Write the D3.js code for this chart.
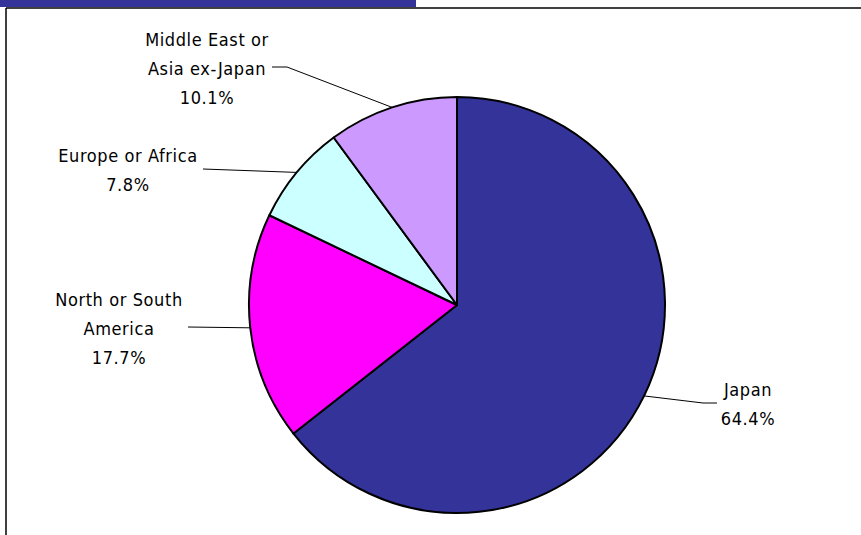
<!DOCTYPE html>
<html>
<head>
<meta charset="utf-8">
<script src="https://cdn.jsdelivr.net/npm/d3@7"></script>
<style>
  html, body { margin: 0; padding: 0; background: #fff; }
  svg { display: block; }
  .lbl { font-family: "DejaVu Sans Condensed", "DejaVu Sans", sans-serif; font-stretch: condensed; font-size: 18px; fill: #000; letter-spacing: 0.6px; }
</style>
</head>
<body>
<svg id="chart"></svg>
<script>
// Slices, clockwise from 12 o'clock
const regions = ["Japan", "North or South America", "Europe or Africa", "Middle East or Asia ex-Japan"];
const shares = [64.4, 17.7, 7.8, 10.1];
const labelLines = [
  ["Japan"],
  ["North or South", "America"],
  ["Europe or Africa"],
  ["Middle East or", "Asia ex-Japan"]
];
const sliceColors = ["#333399", "#ff00ff", "#ccffff", "#cc99ff"];

const width = 861, height = 535;
const cx = 457, cy = 305, r = 208;

const svg = d3.select("#chart").attr("width", width).attr("height", height);

// header band + frame
svg.append("rect").attr("x", 0).attr("y", 0).attr("width", 416).attr("height", 7).attr("fill", "#333399");
svg.append("line").attr("x1", 6).attr("x2", width).attr("y1", 8).attr("y2", 8).attr("stroke", "#000").attr("stroke-width", 1.5);
svg.append("line").attr("x1", 6).attr("x2", 6).attr("y1", 8).attr("y2", height).attr("stroke", "#000").attr("stroke-width", 1.5);

const pie = d3.pie().sort(null).value(d => d.v);
const data = pie(regions.map((name, i) => ({ name, v: shares[i], lines: labelLines[i], color: sliceColors[i] })));

const arc = d3.arc().innerRadius(0).outerRadius(r);
const edge = d3.arc().innerRadius(r).outerRadius(r);

const g = svg.append("g").attr("transform", `translate(${cx},${cy})`);

g.selectAll("path.slice")
  .data(data)
  .enter()
  .append("path")
  .attr("class", "slice")
  .attr("d", arc)
  .attr("fill", d => d.data.color)
  .attr("stroke", "#000")
  .attr("stroke-width", 2)
  .attr("stroke-linejoin", "round");

// label placement (text x, first baseline, line start, elbow)
const place = {
  "Japan": { x: 748, y: 396, start: [717, 403], elbow: [703, 403] },
  "North or South America": { x: 119, y: 306, start: [188, 327], elbow: null },
  "Europe or Africa": { x: 128, y: 162, start: [203, 169], elbow: null },
  "Middle East or Asia ex-Japan": { x: 207, y: 46, start: [272, 67], elbow: [287, 67] }
};
const lineH = 29;

data.forEach(d => {
  const p = place[d.data.name];
  const [ex, ey] = edge.centroid(d);
  const pts = [p.start];
  if (p.elbow) pts.push(p.elbow);
  pts.push([cx + ex, cy + ey]);
  svg.append("path")
    .attr("d", d3.line()(pts))
    .attr("fill", "none")
    .attr("stroke", "#000")
    .attr("stroke-width", 1);

  const t = svg.append("text").attr("class", "lbl").attr("text-anchor", "middle");
  const lines = d.data.lines.concat([d.data.v.toFixed(1) + "%"]);
  lines.forEach((s, i) => {
    t.append("tspan").attr("x", p.x).attr("y", p.y + i * lineH).text(s);
  });
});
</script>
</body>
</html>
